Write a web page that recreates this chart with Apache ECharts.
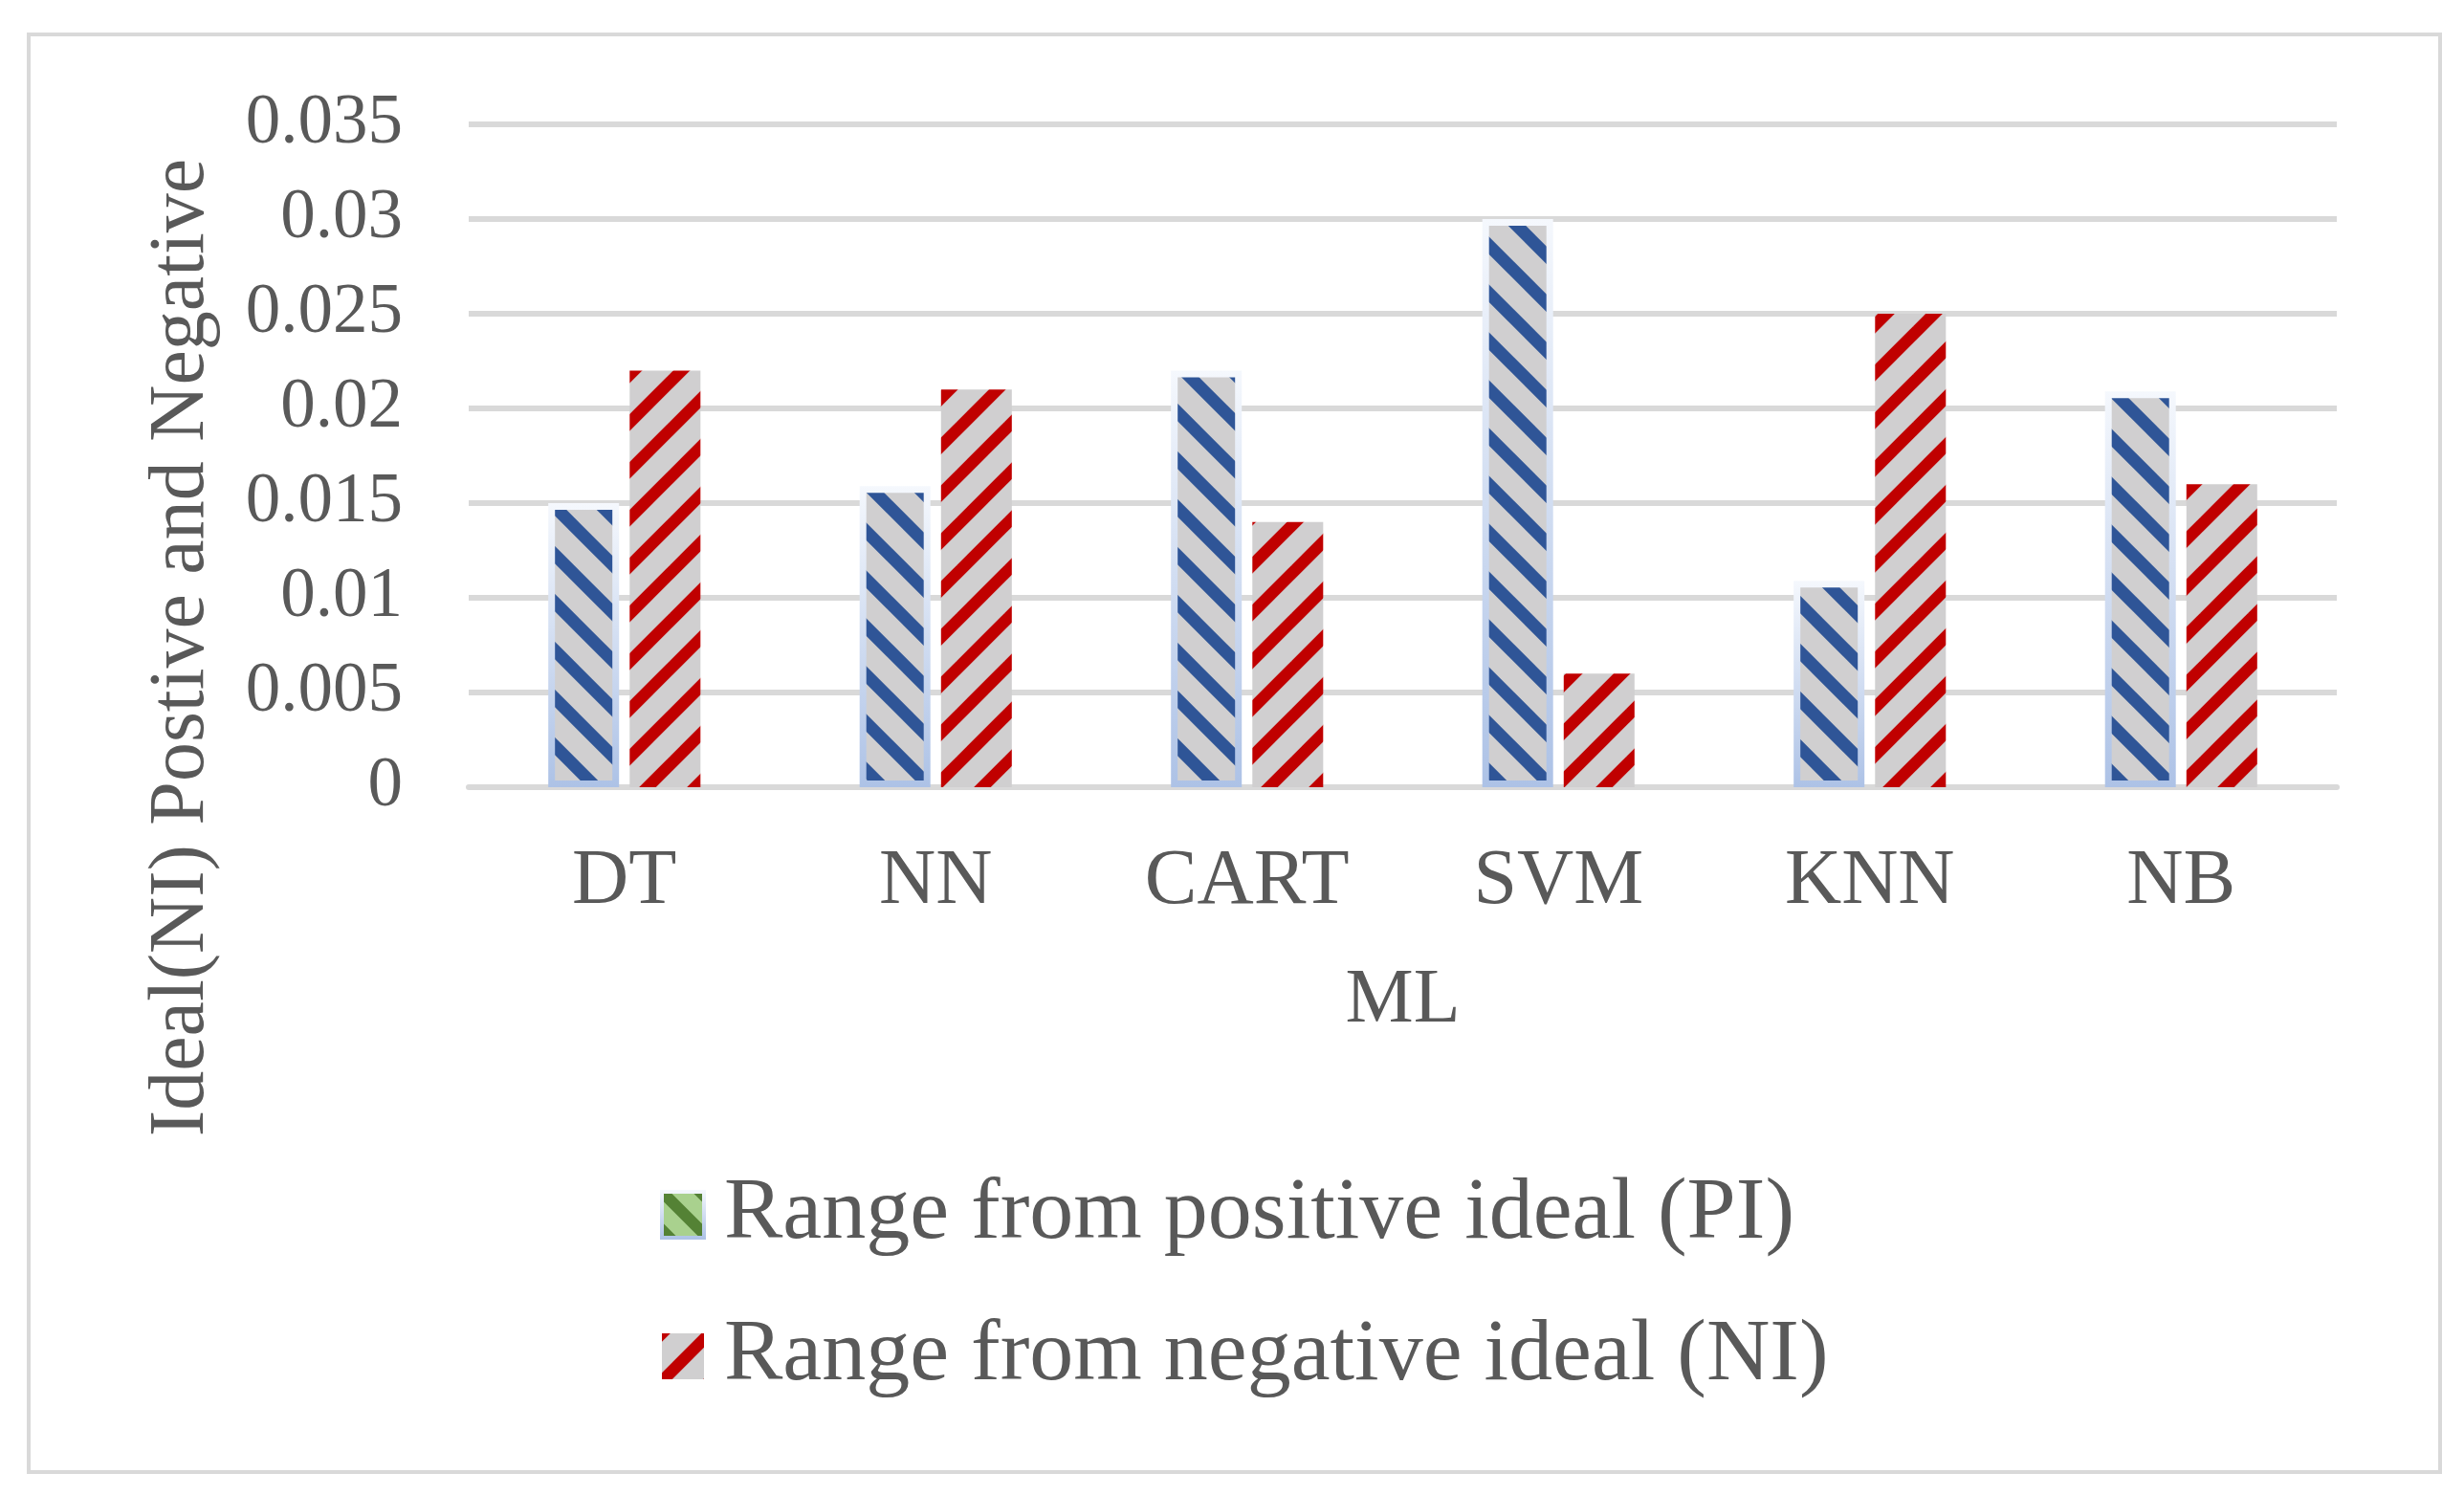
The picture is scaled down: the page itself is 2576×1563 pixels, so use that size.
<!DOCTYPE html>
<html>
<head>
<meta charset="utf-8">
<script src="https://cdn.jsdelivr.net/npm/echarts@6/dist/echarts.min.js"></script>
<style>
html,body{margin:0;padding:0;background:#fff;}
#chart{width:2576px;height:1563px;}
</style>
</head>
<body>
<div id="chart"></div>
<script>
const categories = ['DT', 'NN', 'CART', 'SVM', 'KNN', 'NB'];
const seriesNames = ['Range from positive ideal (PI)', 'Range from negative ideal (NI)'];
const piValues = [0.015, 0.0159, 0.022, 0.030, 0.0109, 0.0209];
const niValues = [0.022, 0.021, 0.014, 0.006, 0.025, 0.016];
const yTicks = [0, 0.005, 0.01, 0.015, 0.02, 0.025, 0.03, 0.035];
const yTickLabels = ['0', '0.005', '0.01', '0.015', '0.02', '0.025', '0.03', '0.035'];
const xAxisTitle = 'ML';
const yAxisTitle = 'Ideal(NI) Postive and Negative';

function stripes(bg, fg, dir, period, width) {
  const c = document.createElement('canvas');
  c.width = period; c.height = period;
  const g = c.getContext('2d');
  g.fillStyle = bg; g.fillRect(0, 0, period, period);
  g.strokeStyle = fg; g.lineWidth = width; g.lineCap = 'butt';
  for (let k = -1; k <= 1; k++) {
    g.beginPath();
    if (dir === 'back') { g.moveTo(k * period - period, -period); g.lineTo(k * period + 2 * period, 2 * period); }
    else { g.moveTo(k * period - period, 2 * period); g.lineTo(k * period + 2 * period, -period); }
    g.stroke();
  }
  return c;
}
const bluePat = { image: stripes('#d0cfd0', '#2f5597', 'back', 50, 13), repeat: 'repeat' };
const redPat = { image: stripes('#d0cfd0', '#c00000', 'fwd', 50, 12.5), repeat: 'repeat' };
const greenPat = { image: stripes('#a9d18e', '#548235', 'back', 40, 12), repeat: 'repeat' };
const piBorder = new echarts.graphic.LinearGradient(0, 0, 0, 1, [
  { offset: 0, color: '#f5f8fd' }, { offset: 1, color: '#adc2e6' }
]);

const FONT = '"Liberation Serif", "Times New Roman", serif';
const TXT = '#595959';

const chart = echarts.init(document.getElementById('chart'), null, { renderer: 'canvas' });
chart.setOption({
  backgroundColor: '#ffffff',
  animation: false,
  grid: { left: 490, right: 133, top: 130, bottom: 740, containLabel: false, outerBoundsMode: 'none' },
  xAxis: {
    type: 'category',
    data: categories,
    name: xAxisTitle,
    nameLocation: 'middle',
    nameGap: 184,
    nameTextStyle: { fontFamily: FONT, fontSize: 80, color: TXT },
    axisLine: { show: true, lineStyle: { color: '#d9d9d9', width: 6 } },
    axisTick: { show: false },
    axisLabel: { fontFamily: FONT, fontSize: 82, color: TXT, margin: 58 }
  },
  yAxis: {
    type: 'value',
    min: 0, max: 0.035, interval: 0.005,
    axisLine: { show: false },
    axisTick: { show: false },
    splitLine: { show: true, lineStyle: { color: '#d9d9d9', width: 6 } },
    axisLabel: {
      fontFamily: FONT, fontSize: 73, color: TXT, margin: 69,
      formatter: function (v) {
        let best = 0;
        for (let i = 0; i < yTicks.length; i++) if (Math.abs(yTicks[i] - v) < Math.abs(yTicks[best] - v)) best = i;
        return yTickLabels[best];
      }
    }
  },
  legend: {
    orient: 'vertical',
    left: 685, top: 1219,
    itemWidth: 44, itemHeight: 48,
    itemGap: 56,
    icon: 'rect',
    textStyle: { fontFamily: FONT, fontSize: 92, color: TXT, lineHeight: 92, padding: [0, 0, 0, 16] },
    data: [
      { name: seriesNames[0], icon: 'rect', itemStyle: { color: greenPat, borderColor: piBorder, borderWidth: 4 } },
      { name: seriesNames[1], icon: 'rect', itemStyle: { color: redPat, borderWidth: 0 } }
    ]
  },
  series: [
    {
      name: seriesNames[0], type: 'bar', data: piValues,
      barWidth: 74, barGap: '15%',
      itemStyle: { color: bluePat, borderColor: piBorder, borderWidth: 7 }
    },
    {
      name: seriesNames[1], type: 'bar', data: niValues,
      barWidth: 74, barGap: '15%',
      itemStyle: { color: redPat, borderWidth: 0 }
    }
  ],
  graphic: [
    {
      type: 'rect', silent: true, z: -1,
      shape: { x: 30, y: 36, width: 2521, height: 1503 },
      style: { fill: null, stroke: '#d9d9d9', lineWidth: 4 }
    },
    {
      type: 'text', x: 190, y: 677, rotation: Math.PI / 2,
      style: { text: yAxisTitle, font: '82px ' + FONT, fill: TXT, textAlign: 'center', textVerticalAlign: 'middle' }
    }
  ]
});
</script>
</body>
</html>
